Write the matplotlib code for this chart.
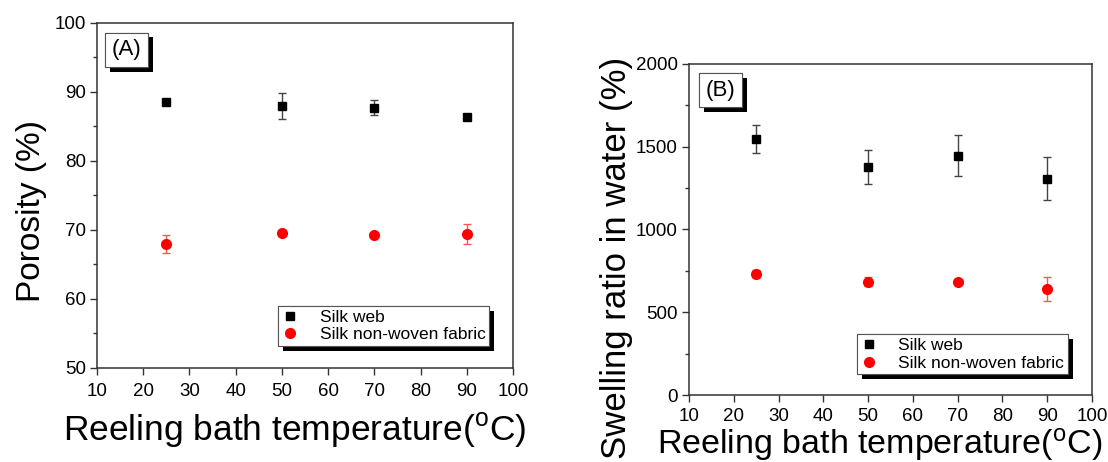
import matplotlib
matplotlib.use("Agg")
import matplotlib.pyplot as plt
import matplotlib.patheffects as pe
from matplotlib.lines import Line2D
from matplotlib.ticker import MultipleLocator

plt.rcParams['font.family'] = ['Liberation Sans', 'DejaVu Sans']
plt.rcParams['mathtext.fontset'] = 'custom'
plt.rcParams['mathtext.rm'] = 'Liberation Sans'

# data
temps = [25, 50, 70, 90]

porosity_web = [88.6, 88.0, 87.7, 86.4]
porosity_web_err = [0.0, 1.9, 1.1, 0.0]
porosity_fab = [67.9, 69.6, 69.3, 69.4]
porosity_fab_err = [1.3, 0.0, 0.0, 1.4]

swell_web = [1546, 1377, 1447, 1308]
swell_web_err = [83, 104, 121, 130]
swell_fab = [732, 685, 681, 640]
swell_fab_err = [22, 25, 10, 75]

x_ticks = [10, 20, 30, 40, 50, 60, 70, 80, 90, 100]
xlabel = r'Reeling bath temperature($\mathregular{^o}$C)'
series_names = ['Silk web', 'Silk non-woven fabric']

fig = plt.figure(figsize=(11.08, 4.62), dpi=100)
axA = fig.add_axes([0.0875, 0.2035, 0.3755, 0.7468])
axB = fig.add_axes([0.6218, 0.145, 0.3637, 0.7165])

shadow = [pe.withSimplePatchShadow(offset=(3.5, -3.5), shadow_rgbFace='k', alpha=1.0), pe.Normal()]


def draw_panel(ax, web, web_err, fab, fab_err, ylim, ymajor, ylabel, tag, tag_xy, leg_anchor,
               label_size, xlab_pos, ylab_pos, xpad):
    ax.errorbar(temps, web, yerr=web_err, fmt='s', color='k', ms=6, ecolor='#444444',
                elinewidth=1, capsize=3, capthick=1, zorder=3)
    ax.errorbar(temps, fab, yerr=fab_err, fmt='o', color='#ff0000', ms=7, ecolor='#ff5555',
                elinewidth=1, capsize=3, capthick=1, zorder=3)
    ax.set_xlim(10, 100)
    ax.set_ylim(*ylim)
    ax.set_xticks(x_ticks)
    ax.yaxis.set_major_locator(MultipleLocator(ymajor))
    ax.yaxis.set_minor_locator(MultipleLocator(ymajor / 2))
    ax.tick_params(axis='both', which='major', direction='out', length=5, width=1,
                   labelsize=13.5, color='#333333', pad=3)
    ax.tick_params(axis='x', which='major', pad=xpad)
    ax.tick_params(axis='y', which='minor', direction='out', length=3, width=1, color='#333333')
    for s in ax.spines.values():
        s.set_linewidth(1.1)
        s.set_color('#333333')
    ax.set_xlabel(xlabel, fontsize=label_size[0])
    ax.set_ylabel(ylabel, fontsize=label_size[1])
    ax.xaxis.set_label_coords(*xlab_pos)
    ax.yaxis.set_label_coords(*ylab_pos)

    t = ax.text(tag_xy[0], tag_xy[1], tag, transform=ax.transAxes, fontsize=16,
                ha='left', va='top',
                bbox=dict(boxstyle='square,pad=0.3', fc='white', ec='#555555', lw=0.8))
    t.get_bbox_patch().set_path_effects(shadow)

    # legend with markers only
    handles = [Line2D([], [], ls='none', marker='s', color='k', ms=6),
               Line2D([], [], ls='none', marker='o', color='#ff0000', ms=7)]
    leg = ax.legend(handles, series_names, loc='lower right', bbox_to_anchor=leg_anchor,
                    borderaxespad=0, fontsize=12.5, handlelength=1.0, handletextpad=1.2,
                    borderpad=0.2, labelspacing=0.15, fancybox=False, framealpha=1,
                    edgecolor='#555555')
    leg.get_frame().set_linewidth(0.8)
    leg.get_frame().set_path_effects(shadow)


draw_panel(axA, porosity_web, porosity_web_err, porosity_fab, porosity_fab_err,
           (50, 100), 10, 'Porosity (%)', '(A)', (0.035, 0.953), (0.942, 0.064),
           (25.5, 24), (0.476, -0.125), (-0.12, 0.455), 6)
draw_panel(axB, swell_web, swell_web_err, swell_fab, swell_fab_err,
           (0, 2000), 500, 'Swelling ratio in water (%)', '(B)', (0.041, 0.953), (0.940, 0.063),
           (24.5, 25), (0.474, -0.095), (-0.14, 0.414), 4)

fig.savefig('out.png', dpi=100)
